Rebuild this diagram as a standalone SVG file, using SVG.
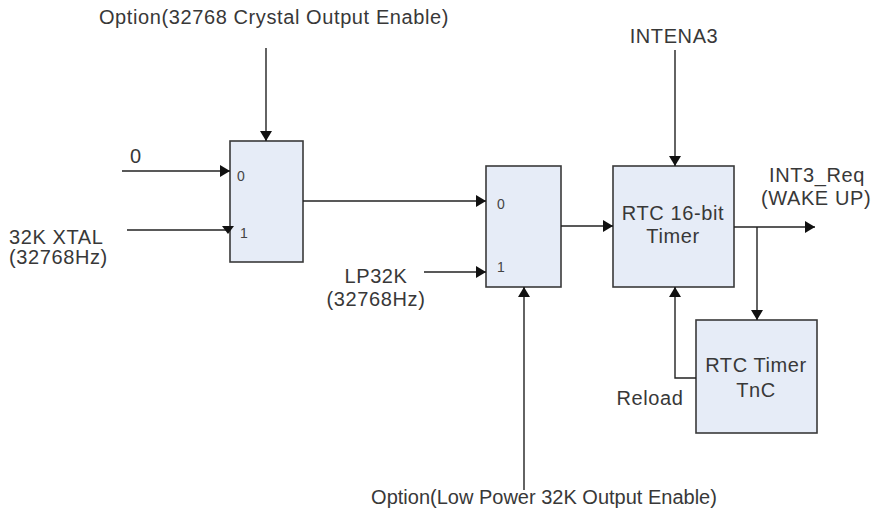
<svg xmlns="http://www.w3.org/2000/svg" width="874" height="512" viewBox="0 0 874 512">
<style>
.box{fill:#e6ecf7;stroke:#3a3a3a;stroke-width:1.6}
.ln{fill:none;stroke:#222;stroke-width:1.4}
.t{font-family:"Liberation Sans",Arial,sans-serif;font-size:20px;fill:#383838;letter-spacing:0.6px}
.s{font-family:"Liberation Sans",Arial,sans-serif;font-size:14px;fill:#444}
.m{text-anchor:middle}
</style>
<defs>
<marker id="ah" markerUnits="userSpaceOnUse" markerWidth="10" markerHeight="12" viewBox="0 0 10 12" refX="10" refY="6" orient="auto">
<path d="M0,0 L10,6 L0,12 Z" fill="#111"/>
</marker>
</defs>
<rect width="874" height="512" fill="#fff"/>
<g id="mux1">
<rect class="box" x="230" y="141" width="73" height="121"/>
<text class="s" x="237" y="181">0</text>
<text class="s" x="240" y="238">1</text>
</g>
<g id="mux2">
<rect class="box" x="486" y="166" width="75" height="121"/>
<text class="s" x="497" y="209">0</text>
<text class="s" x="497" y="272">1</text>
</g>
<g id="rtc16">
<rect class="box" x="613" y="166" width="121" height="121"/>
<text class="t m" x="673" y="220">RTC 16-bit</text>
<text class="t m" x="673" y="243">Timer</text>
</g>
<g id="tnc">
<rect class="box" x="696" y="320" width="121" height="113"/>
<text class="t m" x="756" y="372">RTC Timer</text>
<text class="t m" x="756" y="397">TnC</text>
</g>
<g id="labels">
<text class="t m" x="274" y="24">Option(32768 Crystal Output Enable)</text>
<text class="t" x="130" y="163">0</text>
<text class="t" x="9" y="244">32K XTAL</text>
<text class="t" x="9" y="264">(32768Hz)</text>
<text class="t m" x="376" y="283">LP32K</text>
<text class="t m" x="376" y="306">(32768Hz)</text>
<text class="t m" x="674" y="43">INTENA3</text>
<text class="t" x="769" y="182">INT3_Req</text>
<text class="t" x="761" y="205">(WAKE UP)</text>
<text class="t m" x="650" y="405">Reload</text>
<text class="t m" x="544" y="504" style="letter-spacing:0">Option(Low Power 32K Output Enable)</text>
</g>
<g id="connectors">
<line class="ln" x1="266" y1="48" x2="266" y2="141" marker-end="url(#ah)"/>
<line class="ln" x1="122" y1="171" x2="230" y2="171" marker-end="url(#ah)"/>
<line class="ln" x1="127" y1="230" x2="229" y2="230"/>
<polygon points="222,226 234,226 228,234" fill="#111"/>
<line class="ln" x1="303" y1="201" x2="486" y2="201" marker-end="url(#ah)"/>
<line class="ln" x1="424" y1="272" x2="486" y2="272" marker-end="url(#ah)"/>
<line class="ln" x1="524" y1="490" x2="524" y2="287" marker-end="url(#ah)"/>
<line class="ln" x1="561" y1="226" x2="613" y2="226" marker-end="url(#ah)"/>
<line class="ln" x1="675" y1="50" x2="675" y2="166" marker-end="url(#ah)"/>
<line class="ln" x1="734" y1="227" x2="815" y2="227" marker-end="url(#ah)"/>
<line class="ln" x1="757" y1="227" x2="757" y2="320" marker-end="url(#ah)"/>
<polyline class="ln" points="696,378 675,378 675,287" marker-end="url(#ah)"/>
</g>
</svg>
